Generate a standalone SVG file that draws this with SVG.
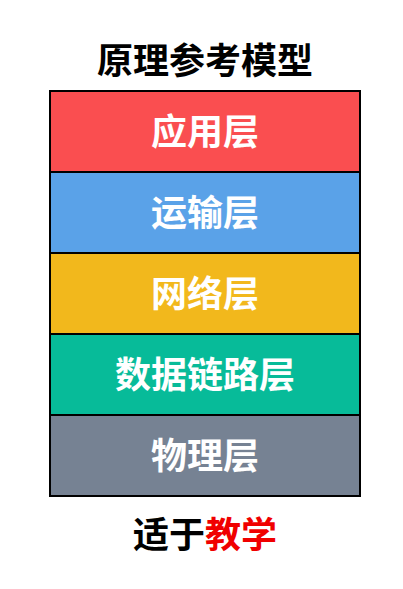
<svg xmlns="http://www.w3.org/2000/svg" width="403" height="589" viewBox="0 0 403 589">
<style>
.t{font-family:"Noto Sans CJK SC","Noto Sans CJK JP",sans-serif;font-weight:700;text-anchor:middle}
.box{stroke:#000;stroke-width:2}
.lbl{fill:#fff;font-size:36px}
</style>
<rect width="403" height="589" fill="#fff"/>
<text class="t" x="205" y="74" font-size="36" fill="#000">原理参考模型</text>
<g id="app"><rect class="box" x="50" y="91" width="310" height="81" fill="#FA4E50"/><text class="t lbl" x="205" y="145">应用层</text></g>
<g id="transport"><rect class="box" x="50" y="172" width="310" height="81" fill="#5AA2E8"/><text class="t lbl" x="205" y="226">运输层</text></g>
<g id="network"><rect class="box" x="50" y="253" width="310" height="81" fill="#F2B81C"/><text class="t lbl" x="205" y="307">网络层</text></g>
<g id="datalink"><rect class="box" x="50" y="334" width="310" height="81" fill="#07BB99"/><text class="t lbl" x="205" y="388">数据链路层</text></g>
<g id="physical"><rect class="box" x="50" y="415" width="310" height="81" fill="#768293"/><text class="t lbl" x="205" y="469">物理层</text></g>
<g id="connectors"></g>
<text class="t" x="205" y="548" font-size="36" fill="#000">适于<tspan fill="#F00000">教学</tspan></text>
</svg>
